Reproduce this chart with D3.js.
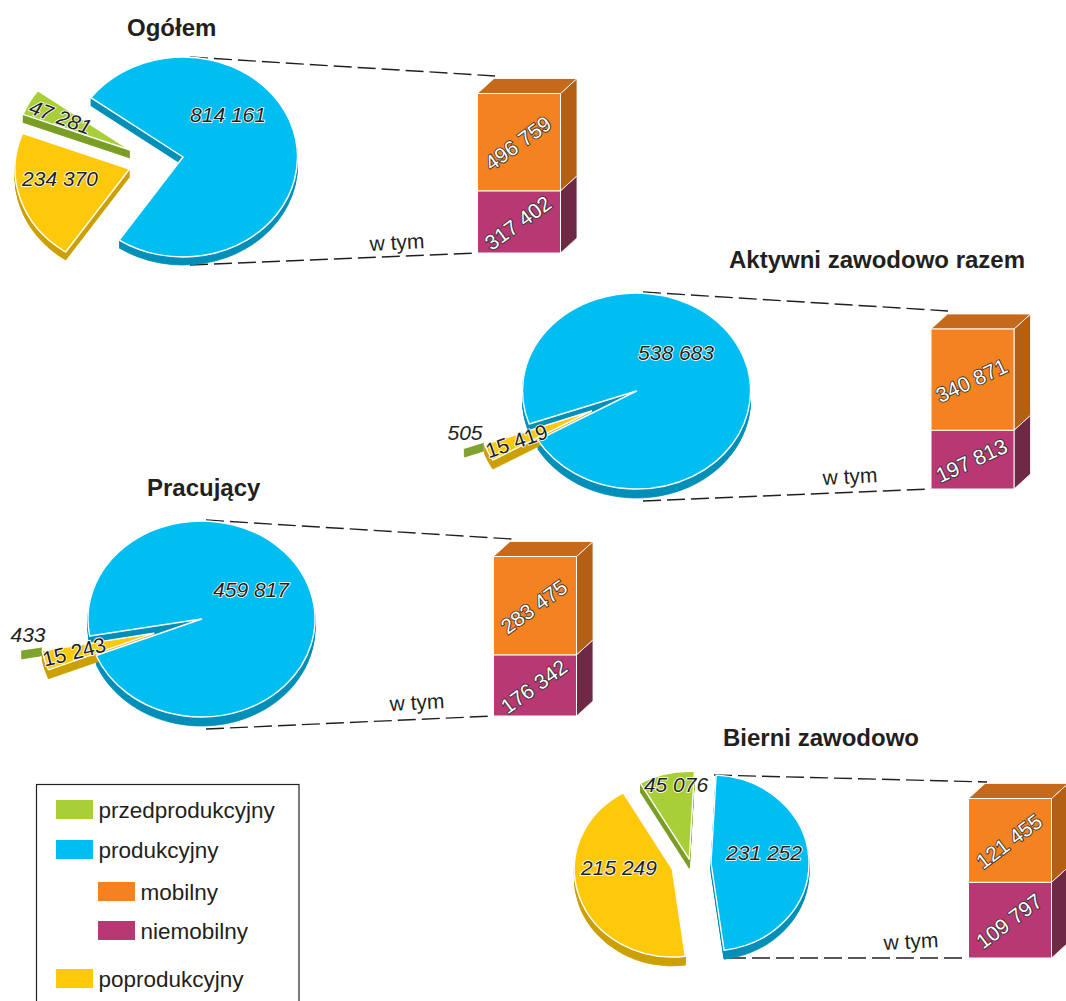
<!DOCTYPE html>
<html>
<head>
<meta charset="utf-8">
<style>
  html, body { margin: 0; padding: 0; background: #fff; overflow: hidden; }
  svg { display: block; }
  text { font-family: "Liberation Sans", Arial, sans-serif; fill: #231f20; }
</style>
</head>
<body>
<script src="https://cdn.jsdelivr.net/npm/d3@7"></script>
<script>

// values, clockwise order on the pies: produkcyjny, poprodukcyjny, przedprodukcyjny
var ageGroups = ['produkcyjny', 'poprodukcyjny', 'przedprodukcyjny'];
var ogolem = [814161, 234370, 47281];
var aktywni = [538683, 15419, 505];
var pracujacy = [459817, 15243, 433];
var bierni = [231252, 215249, 45076];

// mobile / non mobile part of produkcyjny
var ogolemSplit = [496759, 317402];
var aktywniSplit = [340871, 197813];
var pracujacySplit = [283475, 176342];
var bierniSplit = [121455, 109797];

var legendLabels = ['przedprodukcyjny', 'produkcyjny', 'mobilny', 'niemobilny', 'poprodukcyjny'];
var titles = ['Ogółem', 'Aktywni zawodowo razem', 'Pracujący', 'Bierni zawodowo'];

var w = 1066;
var h = 1001;

var svg = d3.select('body').append('svg').attr('width', w).attr('height', h);

var pieColors = ['#00bdf2', '#ffc90b', '#a8cf38'];
var pieDark = ['#008fb8', '#cca000', '#7a9e24'];
var fmt = d3.formatLocale({ decimal: ',', thousands: ' ', grouping: [3], currency: ['', ''] }).format(',d');

var rad = Math.PI / 180;
var arc = d3.arc().innerRadius(0).outerRadius(100);

function drawPie(values, o) {
	var slices = d3.pie().sort(null)
		.startAngle(o.start * rad)
		.endAngle((o.start + 360) * rad)(values);

	var g = svg.append('g');

	function place(i, down) {
		return 'translate(' + (o.cx + o.off[i][0]) + ',' + (o.cy + o.off[i][1] + down) + ') scale(' + (o.rx / 100) + ',' + (o.ry / 100) + ')';
	}

	// hairline slices only show their outer end, the rest sits behind the yellow one
	function shape(i) {
		return i === 2 && o.tinyGreen ? arc.innerRadius(82)(slices[i]) : arc.innerRadius(0)(slices[i]);
	}

	function side(i) {
		g.append('g').selectAll('path')
			.data(d3.range(1, o.depth + 1))
			.enter()
			.append('path')
			.attr('d', shape(i))
			.attr('transform', function(d) { return place(i, d); })
			.attr('fill', pieDark[i])
			.attr('stroke', pieDark[i])
			.attr('stroke-width', 0.8)
			.attr('vector-effect', 'non-scaling-stroke');
	}

	function top(i) {
		g.append('path')
			.attr('d', shape(i))
			.attr('transform', place(i, 0))
			.attr('fill', pieColors[i])
			.attr('stroke', '#fff')
			.attr('stroke-width', 1.4)
			.attr('vector-effect', 'non-scaling-stroke')
			.attr('stroke-linejoin', 'round');
	}

	// blue side goes under the small slices, blue top over them
	side(0);
	side(2);
	top(2);
	side(1);
	top(1);
	top(0);
}

function drawBox(values, o) {
	var total = d3.sum(values);
	var y = d3.scaleLinear().domain([0, total]).range([o.bottom, o.top]);
	var x = d3.scaleLinear().domain([0, 1]).range([o.left, o.right]);
	var dx = 16.5;
	var dy = 15;

	var line = d3.line();
	var g = svg.append('g');

	// niemobilny at the bottom, mobilny on top
	var parts = [
		{ v0: 0, v1: values[1], label: values[1], fill: '#b73873', sideFill: '#6e2a45' },
		{ v0: values[1], v1: total, label: values[0], fill: '#f58220', sideFill: '#b35f14' }
	];

	g.selectAll('path.side')
		.data(parts)
		.enter()
		.append('path')
		.attr('class', 'side')
		.attr('d', function(d) {
			return line([
				[x(1), y(d.v0)],
				[x(1) + dx, y(d.v0) - dy],
				[x(1) + dx, y(d.v1) - dy],
				[x(1), y(d.v1)]
			]) + 'Z';
		})
		.attr('fill', function(d) { return d.sideFill; })
		.attr('stroke', '#fff')
		.attr('stroke-width', 0.8);

	g.append('path')
		.attr('d', line([
			[x(0), y(total)],
			[x(0) + dx, y(total) - dy],
			[x(1) + dx, y(total) - dy],
			[x(1), y(total)]
		]) + 'Z')
		.attr('fill', '#c5691a')
		.attr('stroke', '#fff')
		.attr('stroke-width', 0.8);

	g.selectAll('rect')
		.data(parts)
		.enter()
		.append('rect')
		.attr('x', x(0))
		.attr('y', function(d) { return y(d.v1); })
		.attr('width', x(1) - x(0))
		.attr('height', function(d) { return y(d.v0) - y(d.v1); })
		.attr('fill', function(d) { return d.fill; })
		.attr('stroke', '#fff')
		.attr('stroke-width', 1);

	g.selectAll('text')
		.data(parts)
		.enter()
		.append('text')
		.attr('transform', function(d) {
			var cy = (y(d.v0) + y(d.v1)) / 2;
			return 'translate(' + (x(0.5) - 1) + ',' + (cy + 1) + ') rotate(' + o.rot + ')';
		})
		.attr('text-anchor', 'middle')
		.attr('dy', '0.35em')
		.attr('font-size', 21)
		.attr('stroke', '#333')
		.attr('stroke-width', 1.8)
		.attr('paint-order', 'stroke')
		.style('fill', '#fff')
		.text(function(d) { return fmt(d.label); });
}

function dash(p0, p1) {
	svg.append('line')
		.attr('x1', p0[0]).attr('y1', p0[1])
		.attr('x2', p1[0]).attr('y2', p1[1])
		.attr('stroke', '#231f20')
		.attr('stroke-width', 1.4)
		.attr('stroke-dasharray', '18 6');
}

function pieLabel(value, p, rot, italic) {
	svg.append('text')
		.attr('transform', 'translate(' + p[0] + ',' + p[1] + ') rotate(' + rot + ')')
		.attr('text-anchor', 'middle')
		.attr('font-size', 21)
		.attr('font-style', italic ? 'italic' : 'normal')
		.attr('stroke', '#fff')
		.attr('stroke-width', 1.6)
		.attr('paint-order', 'stroke')
		.text(fmt(value));
}

function title(t, x, y) {
	svg.append('text')
		.attr('x', x).attr('y', y)
		.attr('font-size', 24)
		.attr('font-weight', 'bold')
		.text(t);
}

function wTym(x, y, rot) {
	svg.append('text')
		.attr('transform', 'translate(' + x + ',' + y + ') rotate(' + rot + ')')
		.attr('font-size', 21)
		.text('w tym');
}

// dashed connectors first
dash([190, 57], [495, 76]);
dash([190, 265], [477, 253]);
dash([643, 292], [948, 311]);
dash([643, 501], [931, 489]);
dash([206, 520], [512, 539]);
dash([206, 729], [493, 716]);
dash([714, 775], [987, 782]);
dash([728, 958], [968, 958]);

drawPie(ogolem, { cx: 183, cy: 157, rx: 114.5, ry: 100, depth: 8, start: -53.6,
	off: [[0, 0], [-53.5, 12], [-53, -7]] });
drawPie(aktywni, { cx: 636.5, cy: 391, rx: 114, ry: 98, depth: 9, start: 250.3, tinyGreen: true,
	off: [[0, 0], [-45, 20], [-65, 23.5]] });
drawPie(pracujacy, { cx: 201.5, cy: 619, rx: 113.5, ry: 98, depth: 9, start: 260, tinyGreen: true,
	off: [[0, 0], [-47.7, 14.3], [-68.2, 13.3]] });
drawPie(bierni, { cx: 711, cy: 863, rx: 98, ry: 88, depth: 9, start: 3,
	off: [[0, 0], [-38.7, 6], [-21.7, -3.7]] });

drawBox(ogolemSplit, { left: 477.5, right: 560.5, top: 93.5, bottom: 253, rot: -36 });
drawBox(aktywniSplit, { left: 931, right: 1014, top: 329, bottom: 489, rot: -25 });
drawBox(pracujacySplit, { left: 493.5, right: 576.5, top: 556.5, bottom: 716, rot: -36 });
drawBox(bierniSplit, { left: 968.5, right: 1051.5, top: 798.5, bottom: 958, rot: -37 });

pieLabel(ogolem[0], [228, 122], 0, true);
pieLabel(ogolem[1], [60, 186], 0, true);
pieLabel(ogolem[2], [58, 124], 20, true);
pieLabel(aktywni[0], [676, 360], 0, true);
pieLabel(aktywni[1], [519, 448], -19, false);
pieLabel(aktywni[2], [465, 440], 0, true);
pieLabel(pracujacy[0], [251, 597], 0, true);
pieLabel(pracujacy[1], [76, 659], -14, false);
pieLabel(pracujacy[2], [28, 642], 0, true);
pieLabel(bierni[0], [764, 860], 0, true);
pieLabel(bierni[1], [619, 875], 0, true);
pieLabel(bierni[2], [676, 792], 0, true);

title(titles[0], 127, 36);
title(titles[1], 729, 268);
title(titles[2], 147, 496);
title(titles[3], 723, 746);

wTym(370, 251, -3);
wTym(823, 485, -3);
wTym(390, 711, -3);
wTym(884, 950, -3);

// legend, box runs off the bottom of the page
svg.append('rect')
	.attr('x', 36.5).attr('y', 784.5)
	.attr('width', 262.5).attr('height', 240)
	.attr('fill', 'none')
	.attr('stroke', '#231f20')
	.attr('stroke-width', 1.2);

var legendColors = ['#a8cf38', '#00bdf2', '#f58220', '#b73873', '#ffc90b'];
var legendX = [56, 56, 98, 98, 56];
var legendY = [800, 840, 882, 921, 969];

var legend = svg.selectAll('g.legend')
	.data(legendLabels)
	.enter()
	.append('g')
	.attr('class', 'legend')
	.attr('transform', function(d, i) { return 'translate(' + legendX[i] + ',' + legendY[i] + ')'; });

legend.append('rect')
	.attr('width', 37)
	.attr('height', 19)
	.attr('fill', function(d, i) { return legendColors[i]; });

legend.append('text')
	.attr('x', 42.5)
	.attr('y', 18)
	.attr('font-size', 22.5)
	.text(function(d) { return d; });

</script>
</body>
</html>
